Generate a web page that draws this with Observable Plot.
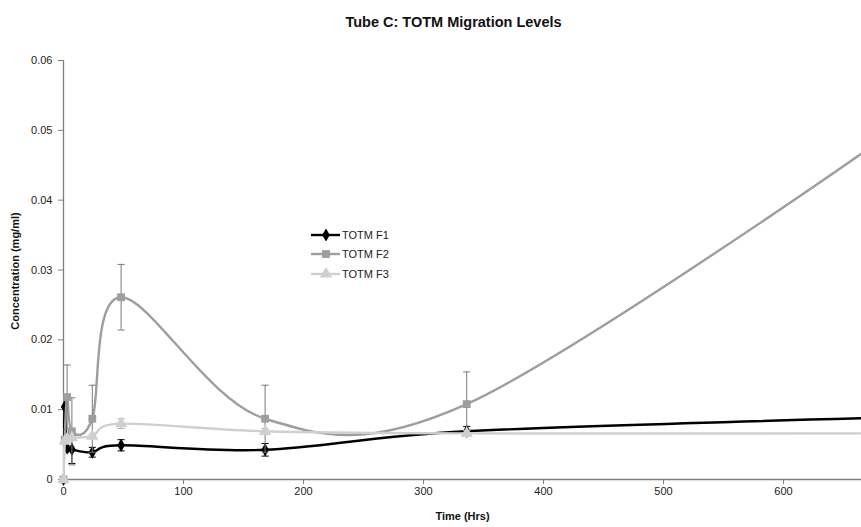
<!DOCTYPE html>
<html><head><meta charset="utf-8">
<script src="https://cdn.jsdelivr.net/npm/d3@7"></script>
<script src="https://cdn.jsdelivr.net/npm/@observablehq/plot@0.6"></script>
<style>
body{margin:0;background:#fff;font-family:"Liberation Sans",Arial,sans-serif}
#wrap{position:relative;width:861px;height:527px}
#legend{position:absolute;left:311px;top:225px;font-size:11px;color:#222}
.row{display:flex;align-items:center;height:19.5px}
.row svg{margin-right:1px}
</style>
</head><body><div id="wrap"><div id="legend"></div></div>
<script>
const title = "Tube C: TOTM Migration Levels";
const xLabel = "Time (Hrs)";
const yLabel = "Concentration (mg/ml)";
const seriesNames = ["TOTM F1", "TOTM F2", "TOTM F3"];
const times = [0, 1, 3, 7, 24, 48, 168, 336, 672];
const f1 = [0, 0.0104, 0.0045, 0.0043, 0.0039, 0.0049, 0.00425, 0.0069, 0.0088];
const f1Err = [0, 0, 0, 0.0020, 0.0007, 0.0008, 0.0009, 0.0007, 0];
const f2 = [0, 0.0057, 0.0118, 0.0069, 0.0087, 0.0261, 0.0087, 0.0108, 0.0475];
const f2Err = [0, 0, 0.0046, 0.0048, 0.0048, 0.0047, 0.0048, 0.0046, 0];
const f3 = [0, 0.0055, 0.0058, 0.0060, 0.0062, 0.0080, 0.0069, 0.0066, 0.0066];
const f3Err = [0, 0, 0, 0, 0.0003, 0.0007, 0.0004, 0.0004, 0];
const xTicks = [0, 100, 200, 300, 400, 500, 600];
const yTicks = [0, 0.01, 0.02, 0.03, 0.04, 0.05, 0.06];

const XMAX = 665;
const styles = [
  {line: "#000000", err: "#000000", symbol: "diamond", r: 4},
  {line: "#9e9e9e", err: "#7a7a7a", symbol: "square", r: 4.4},
  {line: "#cfcfcf", err: "#b0b0b0", symbol: "triangle", r: 4.6}
];
const values = [f1, f2, f3];
const errs = [f1Err, f2Err, f3Err];
const cap = {draw(ctx, size) { const w = Math.sqrt(size) / 2; ctx.moveTo(-w, 0); ctx.lineTo(w, 0); }};

const marks = [];
values.forEach((vals, i) => {
  const rows = times.map((t, j) => ({t, v: vals[j], e: errs[i][j]}));
  const vis = rows.filter(d => d.t <= XMAX);
  const eb = vis.filter(d => d.e > 0);
  const st = styles[i];
  marks.push(Plot.line(rows, {x: "t", y: "v", stroke: st.line, strokeWidth: 2.4, curve: "cardinal", clip: true}));
  marks.push(Plot.ruleX(eb, {x: "t", y1: d => d.v - d.e, y2: d => d.v + d.e, stroke: st.err, strokeWidth: 1}));
  marks.push(Plot.dot(eb, {x: "t", y: d => d.v + d.e, symbol: cap, r: 4, stroke: st.err, fill: "none", strokeWidth: 1}));
  marks.push(Plot.dot(eb, {x: "t", y: d => d.v - d.e, symbol: cap, r: 4, stroke: st.err, fill: "none", strokeWidth: 1}));
  marks.push(Plot.dot(vis, {x: "t", y: "v", symbol: st.symbol, r: st.r, fill: st.line, stroke: "none"}));
});

const chart = Plot.plot({
  width: 861, height: 527,
  marginLeft: 63, marginRight: 0, marginTop: 60, marginBottom: 48,
  style: {fontFamily: "'Liberation Sans', Arial, sans-serif", fontSize: "11px", background: "#fff"},
  x: {domain: [0, XMAX]},
  y: {domain: [0, 0.06]},
  marks: [
    Plot.axisX({ticks: xTicks, tickSize: 5, tickPadding: 3, stroke: "#808080", fill: "#222", label: null, fontSize: 11}),
    Plot.axisY({ticks: yTicks, tickSize: 5, tickPadding: 6, stroke: "#808080", fill: "#222", label: null, fontSize: 11,
      tickFormat: d => d === 0 ? "0" : d3.format(".2f")(d)}),
    Plot.ruleY([0], {stroke: "#808080", strokeWidth: 1.3}),
    Plot.ruleX([0], {stroke: "#808080", strokeWidth: 1.3}),
    ...marks,
    Plot.text([title], {text: d => d, frameAnchor: "top", dy: -44, dx: -9, fontWeight: "bold", fontSize: 14.5, fill: "#111"}),
    Plot.text([xLabel], {text: d => d, frameAnchor: "bottom", dy: 40, fontWeight: "bold", fontSize: 11, fill: "#111"}),
    Plot.text([yLabel], {text: d => d, frameAnchor: "left", textAnchor: "middle", dx: -48, dy: 1, rotate: -90, fontWeight: "bold", fontSize: 11, fill: "#111"})
  ]
});
document.getElementById("wrap").prepend(chart);

const legend = document.getElementById("legend");
seriesNames.forEach((name, i) => {
  const st = styles[i];
  const row = document.createElement("div");
  row.className = "row";
  const svg = d3.create("svg").attr("width", 30).attr("height", 12);
  svg.append("line").attr("x1", 0).attr("x2", 29).attr("y1", 6).attr("y2", 6)
    .attr("stroke", st.line).attr("stroke-width", 2.4);
  const sym = {diamond: d3.symbolDiamond, square: d3.symbolSquare, triangle: d3.symbolTriangle}[st.symbol];
  svg.append("path").attr("transform", "translate(15,6)")
    .attr("d", d3.symbol(sym, Math.PI * st.r * st.r)()).attr("fill", st.line);
  row.appendChild(svg.node());
  const span = document.createElement("span");
  span.textContent = name;
  row.appendChild(span);
  legend.appendChild(row);
});
</script></body></html>
